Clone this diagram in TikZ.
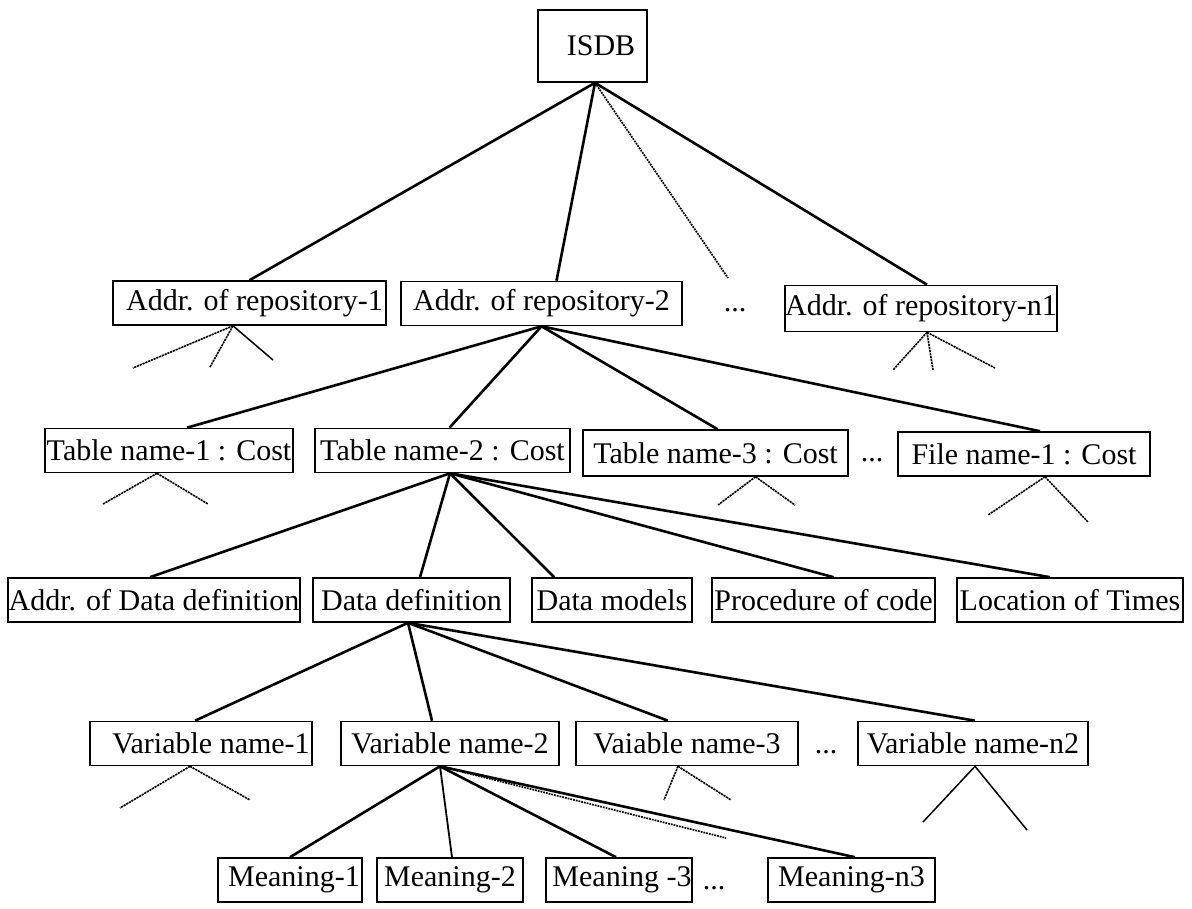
\documentclass[tikz,border=0pt]{standalone}
\usepackage{fontspec}
\setmainfont{Liberation Serif}
\newcommand{\lblfont}{\fontsize{30}{35}\selectfont}
\begin{document}
\begin{tikzpicture}[x=1pt,y=-1pt,
  box/.style={draw, line width=1.6pt, inner sep=0pt, minimum height=44pt, font=\lblfont},
  dotsnode/.style={inner sep=0pt, font=\lblfont},
  link/.style={line width=2.6pt},
  dotlink/.style={line width=1.7pt, dash pattern=on 1.8pt off 1pt},
  stub/.style={line width=1.6pt, dash pattern=on 2.2pt off 0.8pt},
  thinstub/.style={line width=1.5pt}]
\useasboundingbox (0,0) rectangle (1192,909);

% root
\node[box, minimum width=109pt, minimum height=72pt] (isdb) at (592.5,46) {\hspace*{17pt}ISDB};

% repositories
\node[box, minimum width=273pt] (rep1) at (249.5,303) {\hspace*{10pt}Addr. of repository-1};
\node[box, minimum width=281pt] (rep2) at (541.5,303.5) {Addr. of repository-2};
\node[dotsnode] (dotsA) at (735,310) {...};
\node[box, minimum width=272pt, minimum height=46pt] (repn) at (921,308.5) {Addr. of repository-n1};

% tables and files
\node[box, minimum width=248pt] (tab1) at (169,450.5) {Table name-1 : Cost};
\node[box, minimum width=255pt] (tab2) at (442.5,450.5) {Table name-2 : Cost};
\node[box, minimum width=265pt, minimum height=46pt] (tab3) at (715.5,453) {Table name-3 : Cost};
\node[dotsnode] (dotsB) at (872,460) {...};
\node[box, minimum width=252pt] (file1) at (1024,454) {File name-1 : Cost};

% table contents
\node[box, minimum width=292pt] (adef) at (154,600) {Addr. of Data definition};
\node[box, minimum width=197pt] (ddef) at (411.5,600) {Data definition};
\node[box, minimum width=160pt] (dmod) at (612,600) {Data models};
\node[box, minimum width=223pt] (proc) at (823.5,600) {Procedure of code};
\node[box, minimum width=226pt] (loct) at (1070,600) {Location of Times};

% variables
\node[box, minimum width=222pt] (var1) at (201,743.5) {\hspace*{20pt}Variable name-1};
\node[box, minimum width=218pt] (var2) at (450,743.5) {Variable name-2};
\node[box, minimum width=222pt] (var3) at (687,743.5) {Vaiable name-3};
\node[dotsnode] (dotsC) at (826,752) {...};
\node[box, minimum width=230pt] (varn) at (973,743.5) {Variable name-n2};

% meanings
\node[box, minimum width=144pt] (mean1) at (290,880) {\hspace*{8pt}Meaning-1};
\node[box, minimum width=146pt] (mean2) at (450,880) {Meaning-2};
\node[box, minimum width=146pt] (mean3) at (619,880) {\hspace*{6pt}Meaning -3};
\node[dotsnode] (dotsD) at (714,888) {...};
\node[box, minimum width=167pt] (meann) at (851.5,880) {Meaning-n3};

% free ends of the open branches
\coordinate (openA) at (728,278);
\coordinate (openD) at (726,838);
\coordinate (r1a) at (133,368);  \coordinate (r1b) at (210,367);  \coordinate (r1c) at (273,360);
\coordinate (rna) at (893,370);  \coordinate (rnb) at (933,370);  \coordinate (rnc) at (995,368);
\coordinate (t1a) at (103,504);  \coordinate (t1b) at (208,504);
\coordinate (t3a) at (718,505);  \coordinate (t3b) at (795,505);
\coordinate (f1a) at (988,515);  \coordinate (f1b) at (1088,522);
\coordinate (v1a) at (120,808);  \coordinate (v1b) at (250,800);
\coordinate (v3a) at (664,800);  \coordinate (v3b) at (731,800);
\coordinate (vna) at (923,822);  \coordinate (vnb) at (1027,830);

% root level
\coordinate (isdbfoot) at ([xshift=2.5pt]isdb.south);
\draw[link] (isdbfoot) -- (rep1.north);
\draw[link] (isdbfoot) -- ([xshift=15pt]rep2.north);
\draw[dotlink] (isdbfoot) -- (openA);
\draw[link] (isdbfoot) -- ([xshift=6pt]repn.north);

% repository level
\draw[link] (rep2.south) -- ([xshift=18pt]tab1.north);
\draw[link] (rep2.south) -- ([xshift=7pt]tab2.north);
\draw[link] (rep2.south) -- ([xshift=2pt]tab3.north);
\draw[link] (rep2.south) -- ([xshift=16pt]file1.north);
\coordinate (rep1foot) at ([xshift=-16.5pt]rep1.south);
\draw[stub] (rep1foot) -- (r1a);
\draw[stub] (rep1foot) -- (r1b);
\draw[thinstub] (rep1foot) -- (r1c);
\coordinate (repnfoot) at ([xshift=6pt]repn.south);
\draw[stub] (repnfoot) -- (rna);
\draw[stub] (repnfoot) -- (rnb);
\draw[stub] (repnfoot) -- (rnc);

% table level
\coordinate (tab2foot) at ([xshift=7.5pt]tab2.south);
\draw[link] (tab2foot) -- ([xshift=-4pt]adef.north);
\draw[link] (tab2foot) -- ([xshift=8.5pt]ddef.north);
\draw[link] (tab2foot) -- ([xshift=23pt]dmod.north west);
\draw[link] (tab2foot) -- ([xshift=10pt]proc.north);
\draw[link] (tab2foot) -- ([xshift=-20pt]loct.north);
\coordinate (tab1foot) at ([xshift=-12pt]tab1.south);
\draw[stub] (tab1foot) -- (t1a);
\draw[stub] (tab1foot) -- (t1b);
\coordinate (tab3foot) at ([xshift=40pt]tab3.south);
\draw[stub] (tab3foot) -- (t3a);
\draw[stub] (tab3foot) -- (t3b);
\coordinate (file1foot) at ([xshift=21pt]file1.south);
\draw[stub] (file1foot) -- (f1a);
\draw[stub] (file1foot) -- (f1b);

% data definition level
\coordinate (ddeffoot) at ([xshift=-3.5pt]ddef.south);
\draw[link] (ddeffoot) -- ([xshift=-6pt]var1.north);
\draw[link] (ddeffoot) -- ([xshift=-18pt]var2.north);
\draw[link] (ddeffoot) -- ([xshift=-19pt]var3.north);
\draw[link] (ddeffoot) -- ([xshift=2pt]varn.north);
\coordinate (var1foot) at ([xshift=-11pt]var1.south);
\draw[stub] (var1foot) -- (v1a);
\draw[stub] (var1foot) -- (v1b);
\coordinate (var3foot) at ([xshift=-9pt]var3.south);
\draw[stub] (var3foot) -- (v3a);
\draw[stub] (var3foot) -- (v3b);
\coordinate (varnfoot) at ([xshift=2pt]varn.south);
\draw[thinstub] (varnfoot) -- (vna);
\draw[thinstub] (varnfoot) -- (vnb);

% variable level
\coordinate (var2foot) at ([xshift=-10pt]var2.south);
\draw[link] (var2foot) -- (mean1.north);
\draw[link, line width=1.8pt] (var2foot) -- ([xshift=2pt]mean2.north);
\draw[link] (var2foot) -- ([xshift=-3pt]mean3.north);
\draw[dotlink] (var2foot) -- (openD);
\draw[link] (var2foot) -- ([xshift=3.5pt]meann.north);
\end{tikzpicture}
\end{document}
